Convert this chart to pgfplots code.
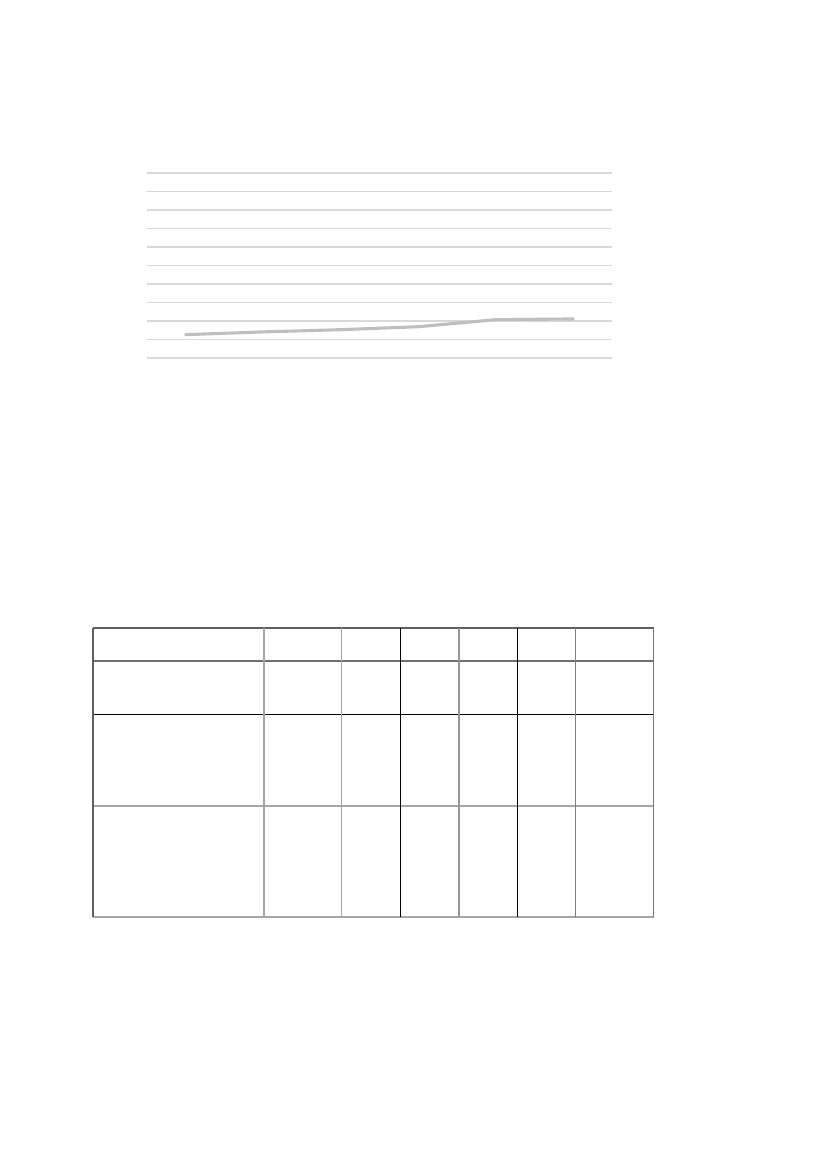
\documentclass[border=0pt]{standalone}
\usepackage{pgfplots}
\pgfplotsset{compat=1.18}

\definecolor{gridgray}{HTML}{D9D9D9}
\definecolor{linegray}{HTML}{BFBFBF}
\definecolor{rulegray}{HTML}{A6A6A6}
\definecolor{darkrule}{HTML}{5F5F5F}

% one reference pixel
\newcommand{\px}{0.254mm}

\begin{document}
\begin{tikzpicture}
  % page of the reference: 827 x 1169 px
  \path[use as bounding box, fill=white] (0,0) rectangle (827*\px,1169*\px);

  \begin{axis}[
    at={(147*\px,811*\px)}, anchor=south west,
    scale only axis,
    width=465*\px, height=185*\px,
    xmin=-0.5, xmax=5.5,
    ymin=0, ymax=10,
    ytick={0,1,...,10},
    xtick=\empty,
    yticklabels={},
    major tick length=0pt,
    ymajorgrids,
    grid style={gridgray, line width=0.75pt},
    axis line style={draw=none},
    clip=false,
  ]
    \addplot[linegray, line width=2.25pt, line join=round, line cap=round, mark=none]
      coordinates {(0,1.26) (1,1.41) (2,1.53) (3,1.69) (4,2.07) (5,2.11)};
  \end{axis}

  % empty table below the chart, drawn in pixel coordinates
  \begin{scope}[x=\px, y=-\px, yshift=1169*\px]
    \draw[darkrule, line width=0.75pt] (93,628) -- (653.7,628);
    \draw[darkrule!90, line width=0.75pt] (93,661) -- (653.7,661);
    \draw[black, line width=0.75pt] (93,714.7) -- (653.7,714.7);
    \draw[rulegray, line width=1.5pt] (93,805.7) -- (653.7,805.7);
    \draw[rulegray, line width=1.5pt] (93,916.7) -- (653.7,916.7);

    \draw[darkrule, line width=0.75pt] (93,628) -- (93,916.7);
    \draw[rulegray, line width=1.5pt] (263.7,628) -- (263.7,916.7);
    \draw[rulegray, line width=1pt] (341.7,628) -- (341.7,916.7);
    \draw[black, line width=0.75pt] (400.3,628) -- (400.3,916.7);
    \draw[rulegray!90!black, line width=1pt] (459,628) -- (459,916.7);
    \draw[black, line width=0.75pt] (517.3,628) -- (517.3,916.7);
    \draw[darkrule!80, line width=1pt] (575.7,628) -- (575.7,916.7);
    \draw[darkrule!85, line width=1pt] (653.7,628) -- (653.7,916.7);
  \end{scope}
\end{tikzpicture}
\end{document}
